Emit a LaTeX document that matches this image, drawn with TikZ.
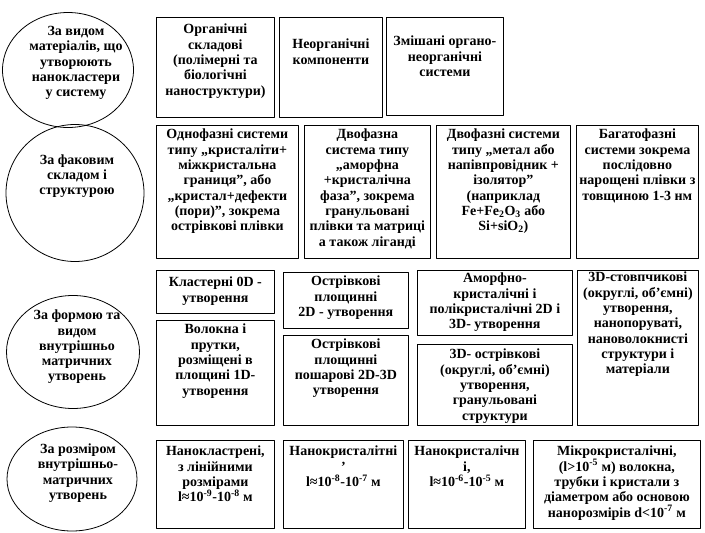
\documentclass[tikz,border=0pt]{standalone}
\usepackage{fontspec}
\setmainfont{Liberation Serif}
\usetikzlibrary{positioning,shapes.geometric}
\tikzset{
  cell/.style={draw, line width=0.8pt, inner sep=0pt, anchor=north west},
  grp/.style={draw, ellipse, line width=0.8pt, inner sep=0pt},
  txt/.style={align=center, inner sep=0pt, anchor=north, font=\bfseries\fontsize{14}{15.3}\selectfont},
}
\begin{document}
\begin{tikzpicture}[x=1pt, y=-1pt, line join=round, line cap=round]
	\useasboundingbox (0,0) rectangle (705,533);
	% ellipses with the criteria
	\node[grp, minimum width=131pt, minimum height=115pt] (e1) at (68,70) {};
	\node[grp, minimum width=138pt, minimum height=137pt] (e2) at (75,193) {};
	\node[grp, minimum width=133pt, minimum height=113pt] (e3) at (73,352) {};
	\node[grp, minimum width=130pt, minimum height=104pt] (e4) at (72,479) {};
	\node[txt, anchor=center] (t1) at (76,63) {За видом\\матеріалів, що\\утворюють\\нанокластери\\у систему};
	\node[txt, anchor=center] (t2) at (77,176) {За факовим\\складом і\\структурою};
	\node[txt, anchor=center] (t3) at (77,347) {За формою та\\видом\\внутрішньо\\матричних\\утворень};
	\node[txt, anchor=center] (t4) at (78,473) {За розміром\\внутрішньо-\\матричних\\утворень};
	% boxes
	\foreach \n/\x/\y/\w/\h in {
		b11/156/17/118/100, b12/279/17/103/100, b13/386/17/117/98,
		b21/156/125/142/133, b22/304/125/126/133, b23/436/125/134/133, b24/576/125/122/133,
		b31/156/270/118/43, b32/156/320/118/105, b33/283/272/125/56, b34/283/335/125/90,
		b35/417/270/155/65, b36/417/344/155/81, b37/577/270/121/155,
		b41/156/440/118/88, b42/283/440/120/88, b43/408/440/117/88, b44/533/440/167/88}
		{\node[cell, minimum width=\w pt, minimum height=\h pt] (\n) at (\x,\y) {};}
	% texts in the boxes
	\node[txt, below=7pt of b11.north] (s11) {Органічні\\складові\\(полімерні та\\біологічні\\наноструктури)};
	\node[txt, below=22pt of b12.north] (s12) {Неорганічні\\компоненти};
	\node[txt, below=19pt of b13.north] (s13) {Змішані органо-\\неорганічні\\системи};
	\node[txt, below=4pt of b21.north] (s21) {Однофазні системи\\типу „кристаліти+\\міжкристальна\\границя", або\\„кристал+дефекти\\(пори)", зокрема\\острівкові плівки};
	\node[txt, below=4pt of b22.north] (s22) {Двофазна\\система типу\\„аморфна\\+кристалічна\\фаза", зокрема\\гранульовані\\плівки та матриці\\а також ліганді};
	\node[txt, below=4pt of b23.north] (s23) {Двофазні системи\\типу „метал або\\напівпровідник +\\ізолятор"\\(наприклад\\Fe+Fe\textsubscript{2}O\textsubscript{3} або\\Si+siO\textsubscript{2})};
	\node[txt, below=4pt of b24.north] (s24) {Багатофазні\\системи зокрема\\послідовно\\нарощені плівки з\\товщиною 1-3 нм};
	\node[txt, below=7pt of b31.north] (s31) {Кластерні 0D -\\утворення};
	\node[txt, below=4pt of b32.north] (s32) {Волокна і\\прутки,\\розміщені в\\площині 1D-\\утворення};
	\node[txt, below=4pt of b33.north] (s33) {Острівкові\\площинні\\2D - утворення};
	\node[txt, below=4pt of b34.north] (s34) {Острівкові\\площинні\\пошарові 2D-3D\\утворення};
	\node[txt, below=3pt of b35.north] (s35) {Аморфно-\\кристалічні і\\полікристалічні 2D і\\3D- утворення};
	\node[txt, below=5pt of b36.north] (s36) {3D- острівкові\\(округлі, об’ємні)\\утворення,\\гранульовані\\структури};
	\node[txt, below=2pt of b37.north] (s37) {3D-стовпчикові\\(округлі, об’ємні)\\утворення,\\нанопоруваті,\\нановолокнисті\\структури і\\матеріали};
	\node[txt, below=6pt of b41.north] (s41) {Нанокластрені,\\з лінійними\\розмірами\\l≈10\textsuperscript{-9}-10\textsuperscript{-8} м};
	\node[txt, below=6pt of b42.north] (s42) {Нанокристалітні\\’\\l≈10\textsuperscript{-8}-10\textsuperscript{-7} м};
	\node[txt, below=6pt of b43.north] (s43) {Нанокристалічн\\і,\\l≈10\textsuperscript{-6}-10\textsuperscript{-5} м};
	\node[txt, below=6pt of b44.north] (s44) {Мікрокристалічні,\\(l>10\textsuperscript{-5} м) волокна,\\трубки і кристали з\\діаметром або основою\\нанорозмірів d<10\textsuperscript{-7} м};
\end{tikzpicture}
\end{document}
